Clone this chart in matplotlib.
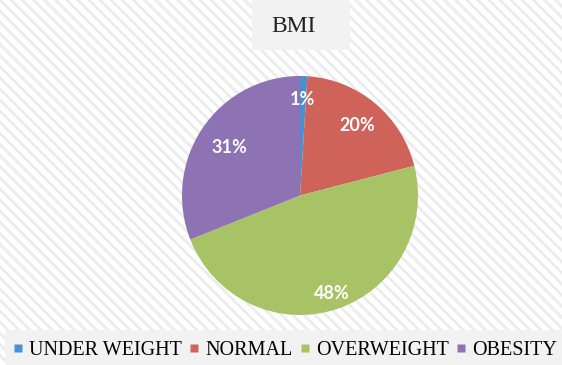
import matplotlib
matplotlib.use("Agg")
import matplotlib.pyplot as plt
from matplotlib.patches import Rectangle
from matplotlib.lines import Line2D
import numpy as np

categories = ["UNDER WEIGHT", "NORMAL", "OVERWEIGHT", "OBESITY"]
shares = [1, 20, 48, 31]
pct_labels = ["1%", "20%", "48%", "31%"]
colors = ["#4a8fd2", "#cf6259", "#a7c366", "#8d73b3"]
label_radius = [0.80, 0.76, 0.86, 0.72]

W, H = 562, 365
fig = plt.figure(figsize=(W / 100, H / 100), dpi=100)
plt.rcParams["hatch.color"] = "#ececec"
plt.rcParams["hatch.linewidth"] = 2.0

# striped background
bg = fig.add_axes([0, 0, 1, 1])
bg.set_xlim(0, W)
bg.set_ylim(H, 0)
bg.axis("off")
bg.add_patch(Rectangle((0, 0), W, H, facecolor="white", edgecolor="none"))
bg.add_patch(Rectangle((-5, -5), W + 10, H + 10, facecolor="none",
                       hatch="\\\\\\", edgecolor="#ececec", linewidth=0))
# title panel and legend panel
bg.add_patch(Rectangle((252, 0), 98, 50, facecolor="#f2f2f2", edgecolor="none"))
bg.add_patch(Rectangle((5, 330), W - 5, 40, facecolor="#f2f2f2", edgecolor="none"))
bg.text(294, 26, "BMI", fontsize=17, family="Liberation Serif",
        ha="center", va="center", color="#222222")

# pie (plot area: x 182..418, y 76..315 px)
left, right, top, bottom = 182, 418, 76, 315
ax = fig.add_axes([left / W, (H - bottom) / H, (right - left) / W, (bottom - top) / H])
wedges, _ = ax.pie(shares, colors=colors, startangle=90, counterclock=False,
                   wedgeprops=dict(linewidth=0))
ax.set_xlim(-1, 1)
ax.set_ylim(-1, 1)
ax.set_aspect("auto")
for w, lab, d in zip(wedges, pct_labels, label_radius):
    mid = np.deg2rad((w.theta1 + w.theta2) / 2)
    ax.text(d * np.cos(mid), d * np.sin(mid), lab, ha="center", va="center",
            color="white", fontsize=13, fontweight="bold", family="Lato")

# legend
handles = [Line2D([0], [0], marker="s", linestyle="none", markersize=5.8,
                  markerfacecolor=c, markeredgecolor="none") for c in colors]
fig.legend(handles, categories, loc="center", bbox_to_anchor=(0.506, 1 - 350 / H),
           ncol=4, frameon=False, handlelength=0.6, handletextpad=0.25,
           columnspacing=0.3, borderpad=0,
           prop=dict(family="Liberation Serif", size=14.5))

fig.savefig("out.png", dpi=100)
